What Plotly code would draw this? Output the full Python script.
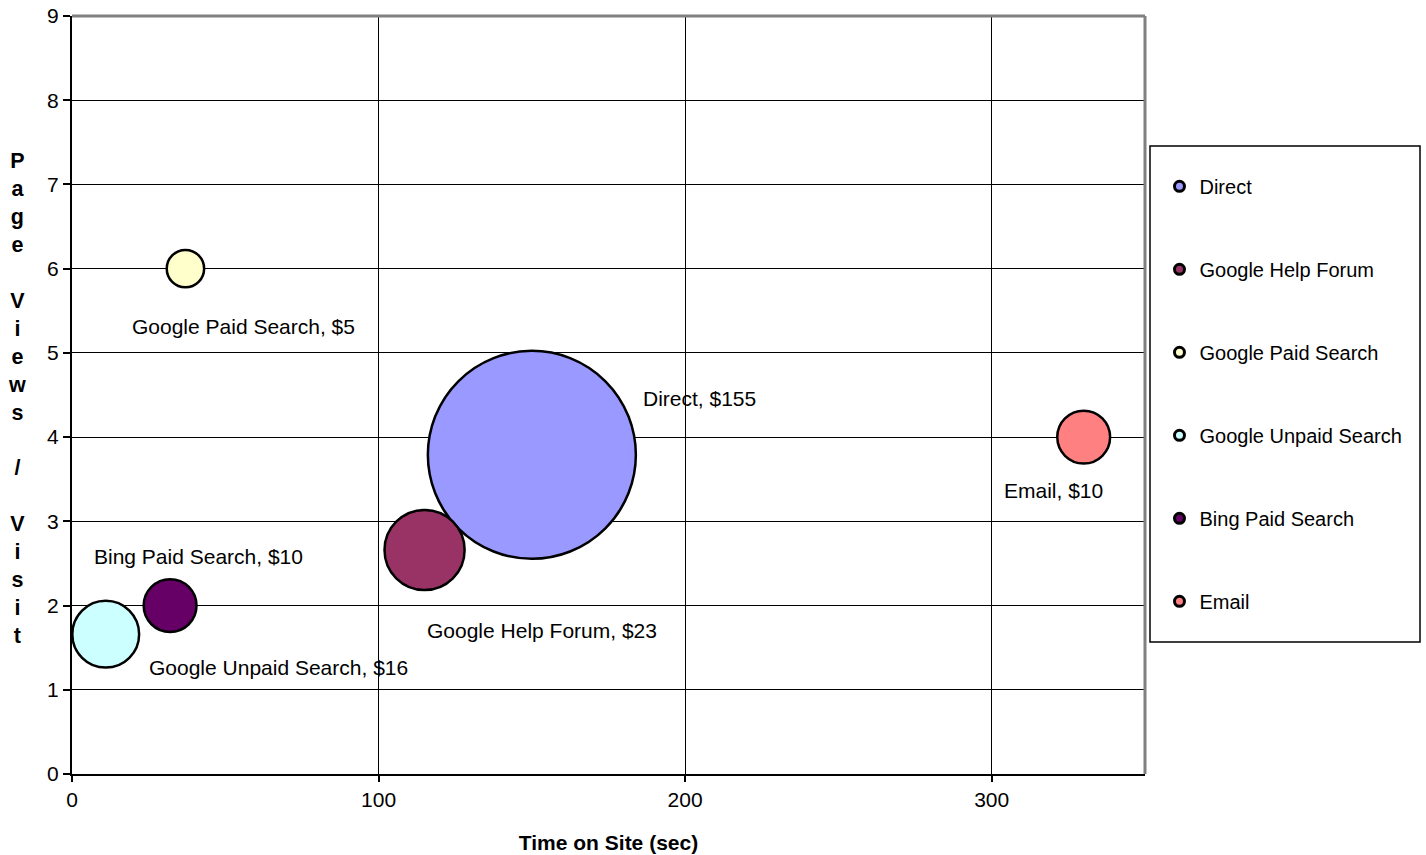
import plotly.graph_objects as go

# ---- data ----
channels = ["Direct", "Google Help Forum", "Google Paid Search",
            "Google Unpaid Search", "Bing Paid Search", "Email"]
time_on_site = [150, 115, 37, 11, 32, 330]
page_views = [3.79, 2.66, 6.0, 1.66, 2.0, 4.0]
revenue = [155, 23, 5, 16, 10, 10]
colors = ["#9999FF", "#993366", "#FFFFCC", "#CCFFFF", "#660066", "#FF8080"]
x_ticks = [0, 100, 200, 300]
y_ticks = list(range(0, 10))

# label offsets in pixels (style)
label_shift = {
    "Direct": (168, 56),
    "Google Help Forum": (117, -81),
    "Google Paid Search": (58, -58),
    "Google Unpaid Search": (173, -33),
    "Bing Paid Search": (28, 49),
    "Email": (-30, -53),
}

FONT = "Liberation Sans, Arial, sans-serif"
FS = 21
max_diam = 208
sizeref = 2.0 * max(revenue) / (max_diam ** 2)

fig = go.Figure()
for name, x, y, r, c in zip(channels, time_on_site, page_views, revenue, colors):
    fig.add_trace(go.Scatter(
        x=[x], y=[y], mode="markers", name=name, legendgroup=name,
        showlegend=False,
        marker=dict(size=[r], sizemode="area", sizeref=sizeref,
                    color=c, opacity=1, line=dict(color="black", width=2.5)),
    ))
for name, c in zip(channels, colors):
    fig.add_trace(go.Scatter(
        x=[None], y=[None], mode="markers", name=name, legendgroup=name,
        showlegend=True,
        marker=dict(size=10, color=c, line=dict(color="black", width=3)),
    ))

annotations = []
for name, x, y, r in zip(channels, time_on_site, page_views, revenue):
    dx, dy = label_shift[name]
    annotations.append(dict(
        x=x, y=y, xref="x", yref="y", text=f"{name}, ${r}", showarrow=False,
        xshift=dx, yshift=dy, font=dict(family=FONT, size=FS, color="black"),
    ))

ytitle = "Page Views / Visit"
ytitle_html = "<br>".join(ch if ch != " " else "&nbsp;" for ch in ytitle)
annotations.append(dict(
    x=0, y=0.5, xref="paper", yref="paper", text=ytitle_html, showarrow=False,
    xshift=-55, yshift=-3, xanchor="center", yanchor="middle",
    font=dict(family=FONT, size=21.5, color="black", weight="bold"),
))

shapes = [
    # gray top / right frame
    dict(type="line", xref="paper", yref="paper", x0=0, x1=1, y0=1, y1=1,
         line=dict(color="#808080", width=3), layer="above"),
    dict(type="line", xref="paper", yref="paper", x0=1, x1=1, y0=0, y1=1,
         line=dict(color="#808080", width=3), layer="above"),
    # legend box
    dict(type="rect", xref="paper", yref="paper",
         x0=1.00466, x1=1.2563, y0=0.1741, y1=0.8285,
         line=dict(color="black", width=1.5), fillcolor="rgba(0,0,0,0)"),
]

fig.update_layout(
    width=1426, height=855,
    margin=dict(l=72, r=281, t=16, b=81),
    paper_bgcolor="white", plot_bgcolor="white",
    font=dict(family=FONT, size=FS, color="black"),
    showlegend=True,
    legend=dict(x=1.0135, y=0.801, xanchor="left", yanchor="top",
                font=dict(family=FONT, size=20, color="black"),
                tracegroupgap=54, itemsizing="trace",
                bgcolor="rgba(0,0,0,0)", borderwidth=0),
    annotations=annotations,
    shapes=shapes,
    xaxis=dict(range=[0, 350], tickvals=x_ticks, ticktext=[str(v) for v in x_ticks],
               showgrid=True, gridcolor="black", gridwidth=1,
               showline=True, linecolor="black", linewidth=2,
               ticks="outside", ticklen=6, tickcolor="black", tickwidth=1.5,
               zeroline=False, tickfont=dict(size=FS), automargin=False,
               ticklabelstandoff=0,
               title=dict(text="<b>Time on Site (sec)</b>", font=dict(size=FS), standoff=25)),
    yaxis=dict(range=[0, 9], tickvals=y_ticks, ticktext=[str(v) for v in y_ticks],
               showgrid=True, gridcolor="black", gridwidth=1,
               showline=True, linecolor="black", linewidth=2,
               ticks="outside", ticklen=7, tickcolor="black", tickwidth=1.5,
               zeroline=False, tickfont=dict(size=FS), automargin=False),
)

fig.write_html("out.html")
